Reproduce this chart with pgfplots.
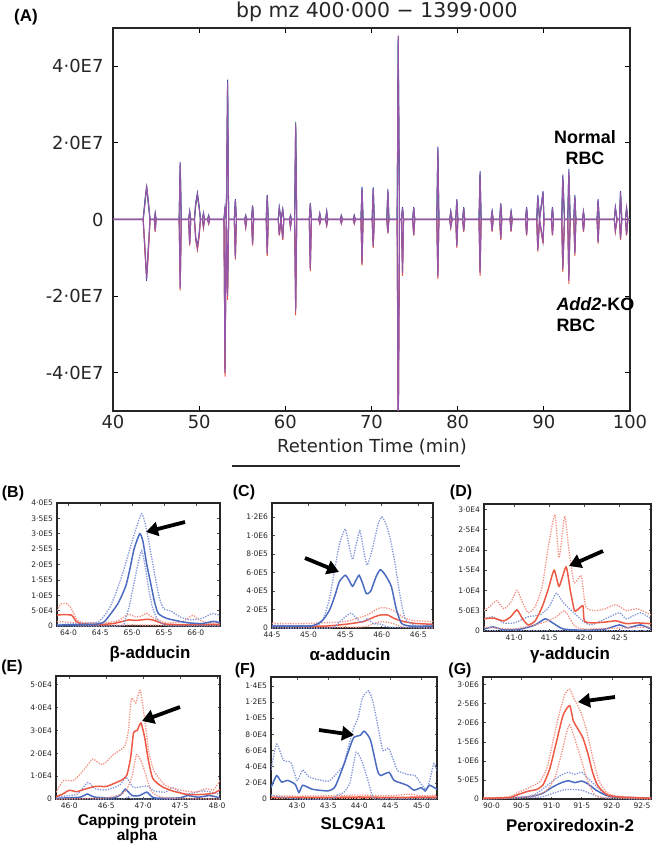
\documentclass[border=0pt]{standalone}
\usepackage{fontspec}
\setmainfont{DejaVu Sans}
\newfontfamily\arialf{Liberation Sans}
\usepackage{pgfplots}
\pgfplotsset{compat=1.18}
\usepackage{pgfplotstable}
\usetikzlibrary{arrows.meta}

\definecolor{cpu}{HTML}{9555A8}
\definecolor{cgr}{HTML}{3A9A5B}
\definecolor{cbk}{HTML}{2F4FA0}
\definecolor{crd}{HTML}{E8553A}
\definecolor{cbl}{HTML}{4A6BC0}
\definecolor{cbll}{HTML}{8096D8}
\definecolor{crs}{HTML}{EC5A45}
\definecolor{crl}{HTML}{F29284}

\pgfplotstableread{
t P Q R K L M
40.0 0 0 0 0 0 0
43.5 0 0 0 0 0 0
43.75 0.5 0.55 0.6 -0.9 -1.0 -0.95
43.9 0.9 0.85 0.8 -1.55 -1.45 -1.6
44.05 0.55 0.6 0.5 -1.0 -1.1 -0.9
44.3 0 0 0 0 0 0
44.8 0 0 0 0 0 0
44.9 0.15 0.17 0.14 -0.3 -0.32 -0.28
45.0 0 0 0 0 0 0
47.68 0 0 0 0 0 0
47.8 1.45 1.5 1.4 -1.8 -1.85 -1.75
47.92 0 0 0 0 0 0
48.78 0 0 0 0 0 0
48.9 0.2 0.22 0.19 -0.65 -0.68 -0.62
49.02 0 0 0 0 0 0
49.45 0 0 0 0 0 0
49.6 0.4 0.45 0.35 -0.5 -0.55 -0.45
49.8 0.65 0.7 0.6 -0.75 -0.8 -0.7
50.0 0.3 0.35 0.3 -0.4 -0.45 -0.35
50.15 0 0 0 0 0 0
50.38 0 0 0 0 0 0
50.5 0.15 0.17 0.14 -0.2 -0.22 -0.19
50.62 0 0 0 0 0 0
50.98 0 0 0 0 0 0
51.1 0.1 0.11 0.09 -0.1 -0.12 -0.09
51.22 0 0 0 0 0 0
52.88 0 0 0 0 0 0
53.0 0.3 0.32 0.28 -4.0 -4.1 -3.9
53.15 0 0 0 0 0 0
53.3 3.6 3.65 3.5 -2.0 -2.1 -1.9
53.42 0 0 0 0 0 0
54.08 0 0 0 0 0 0
54.2 0.5 0.53 0.47 -1.0 -1.05 -0.95
54.32 0 0 0 0 0 0
55.28 0 0 0 0 0 0
55.4 0.1 0.11 0.09 -0.2 -0.21 -0.19
55.52 0 0 0 0 0 0
56.08 0 0 0 0 0 0
56.2 0.35 0.37 0.33 -0.65 -0.68 -0.62
56.32 0 0 0 0 0 0
57.78 0 0 0 0 0 0
57.9 0.6 0.64 0.57 -0.9 -0.95 -0.86
58.02 0 0 0 0 0 0
59.18 0 0 0 0 0 0
59.3 0.3 0.32 0.28 -0.4 -0.42 -0.38
59.5 0 0 0 0 0 0
59.7 0.25 0.27 0.24 -0.5 -0.53 -0.48
59.82 0 0 0 0 0 0
60.48 0 0 0 0 0 0
60.6 0.1 0.11 0.09 -0.2 -0.21 -0.19
60.72 0 0 0 0 0 0
61.08 0 0 0 0 0 0
61.2 2.5 2.45 2.55 -2.4 -2.5 -2.3
61.32 0 0 0 0 0 0
62.78 0 0 0 0 0 0
62.9 0.4 0.43 0.38 -1.3 -1.35 -1.25
63.02 0 0 0 0 0 0
63.88 0 0 0 0 0 0
64.0 0.15 0.16 0.14 -0.1 -0.11 -0.09
64.12 0 0 0 0 0 0
64.68 0 0 0 0 0 0
64.8 0.2 0.22 0.19 -0.15 -0.16 -0.14
64.92 0 0 0 0 0 0
66.38 0 0 0 0 0 0
66.5 0.1 0.11 0.09 -0.1 -0.11 -0.09
66.62 0 0 0 0 0 0
67.88 0 0 0 0 0 0
68.0 0.1 0.11 0.09 -0.1 -0.11 -0.09
68.12 0 0 0 0 0 0
68.78 0 0 0 0 0 0
68.9 0.8 0.85 0.76 -1.15 -1.2 -1.1
69.02 0 0 0 0 0 0
70.08 0 0 0 0 0 0
70.2 0.8 0.84 0.77 -0.7 -0.74 -0.67
70.32 0 0 0 0 0 0
71.78 0 0 0 0 0 0
71.9 0.75 0.79 0.72 -0.35 -0.37 -0.33
72.02 0 0 0 0 0 0
72.98 0 0 0 0 0 0
73.1 4.8 4.7 4.6 -5.9 -5.9 -5.9
73.25 0 0 0 0 0 0
73.48 0 0 0 0 0 0
73.6 0.3 0.32 0.28 -1.4 -1.47 -1.33
73.72 0 0 0 0 0 0
74.78 0 0 0 0 0 0
74.9 0.3 0.32 0.28 -0.4 -0.42 -0.38
75.02 0 0 0 0 0 0
77.58 0 0 0 0 0 0
77.7 1.85 1.9 1.8 -1.5 -1.55 -1.45
77.82 0 0 0 0 0 0
79.08 0 0 0 0 0 0
79.2 0.2 0.21 0.19 -0.2 -0.21 -0.19
79.35 0 0 0 0 0 0
79.78 0 0 0 0 0 0
79.9 0.5 0.53 0.48 -0.7 -0.74 -0.67
80.02 0 0 0 0 0 0
80.58 0 0 0 0 0 0
80.7 0.3 0.32 0.28 -0.3 -0.32 -0.28
80.82 0 0 0 0 0 0
82.48 0 0 0 0 0 0
82.6 1.2 1.26 1.15 -1.4 -1.47 -1.33
82.72 0 0 0 0 0 0
83.88 0 0 0 0 0 0
84.0 0.2 0.21 0.19 -0.3 -0.32 -0.28
84.12 0 0 0 0 0 0
84.88 0 0 0 0 0 0
85.0 0.4 0.42 0.38 -0.5 -0.53 -0.48
85.12 0 0 0 0 0 0
86.08 0 0 0 0 0 0
86.2 0.2 0.21 0.19 -0.3 -0.32 -0.28
86.32 0 0 0 0 0 0
87.88 0 0 0 0 0 0
88.0 0.3 0.32 0.28 -0.4 -0.42 -0.38
88.12 0 0 0 0 0 0
89.18 0 0 0 0 0 0
89.3 0.6 0.64 0.57 -0.8 -0.84 -0.76
89.5 0 0 0 0 0 0
89.9 0.7 0.74 0.66 -0.6 -0.63 -0.57
90.02 0 0 0 0 0 0
90.88 0 0 0 0 0 0
91.0 0.3 0.32 0.28 -0.4 -0.42 -0.38
91.12 0 0 0 0 0 0
92.08 0 0 0 0 0 0
92.2 1.1 1.17 1.04 -1.3 -1.37 -1.24
92.4 0 0 0 0 0 0
92.78 0 0 0 0 0 0
92.9 1.25 1.32 1.19 -1.6 -1.68 -1.52
93.05 0 0 0 0 0 0
93.48 0 0 0 0 0 0
93.6 0.6 0.64 0.57 -0.9 -0.95 -0.86
93.72 0 0 0 0 0 0
94.48 0 0 0 0 0 0
94.6 0.2 0.21 0.19 -0.3 -0.32 -0.28
94.72 0 0 0 0 0 0
96.18 0 0 0 0 0 0
96.3 0.5 0.53 0.48 -0.6 -0.63 -0.57
96.42 0 0 0 0 0 0
98.18 0 0 0 0 0 0
98.3 0.3 0.32 0.28 -0.3 -0.32 -0.28
98.5 0 0 0 0 0 0
98.78 0 0 0 0 0 0
98.9 0.7 0.74 0.66 -0.5 -0.53 -0.48
99.05 0 0 0 0 0 0
99.48 0 0 0 0 0 0
99.6 0.3 0.32 0.28 -0.4 -0.42 -0.38
99.75 0 0 0 0 0 0
100.0 0 0 0 0 0 0
}\tabA

\pgfplotsset{
  sp/.style={scale only axis, anchor=north west, ymin=0,
    axis line style={line width=1.2bp, black!85},
    tick align=inside, tick pos=both, major tick length=2.5bp,
    every tick/.style={black!70, line width=0.6bp},
    ticklabel style={font=\fontsize{7.6}{8}\selectfont, text=black!85},
    yticklabel style={xshift=-0.5bp}, xticklabel style={yshift=-0.5bp},
    every axis plot/.append style={no marks, smooth, tension=0.35}},
  bs/.style={color=cbl, line width=1.5bp},
  bd/.style={color=cbll, line width=1.3bp, dash pattern=on 1.3bp off 1.3bp},
  rs/.style={color=crs, line width=1.5bp},
  rd/.style={color=crl, line width=1.3bp, dash pattern=on 1.3bp off 1.3bp},
}

\newcommand{\plab}[1]{{\arialf\bfseries\fontsize{16}{17}\selectfont #1}}
\newcommand{\nlab}[1]{{\arialf\bfseries\fontsize{17}{18}\selectfont #1}}

\begin{document}
\begin{tikzpicture}
% ---------------- Panel A ----------------
\begin{axis}[at={(113bp,-28bp)}, anchor=north west, scale only axis,
  width=517bp, height=383bp,
  xmin=40, xmax=100, ymin=-5, ymax=5,
  xtick={40,50,60,70,80,90,100},
  xticklabels={40,50,60,70,80,90,100},
  ytick={-4,-2,0,2,4},
  yticklabels={-4·0E7,-2·0E7,0,2·0E7,4·0E7},
  tick align=inside, tick pos=both, major tick length=5bp,
  every tick/.style={black, line width=0.9bp},
  axis line style={line width=1.5bp, black!85},
  ticklabel style={font=\fontsize{18}{19}\selectfont, text=black!85},
  yticklabel style={xshift=-6bp}, xticklabel style={yshift=-1bp},
  clip=true]
\addplot[no marks, cgr, line width=1.0bp] table[x=t, y=R] {\tabA};
\addplot[no marks, cbk, line width=1.0bp] table[x=t, y=Q] {\tabA};
\addplot[no marks, cpu, line width=1.1bp] table[x=t, y=P] {\tabA};
\addplot[no marks, cbk, line width=1.0bp] table[x=t, y=M] {\tabA};
\addplot[no marks, crd, line width=1.0bp] table[x=t, y=L] {\tabA};
\addplot[no marks, cpu, line width=1.1bp] table[x=t, y=K] {\tabA};
\end{axis}
\node[font=\fontsize{20.5}{21}\selectfont, text=black!85] at (377bp,-12bp) {bp mz 400·000 − 1399·000};
\node at (26bp,-17bp) {{\arialf\bfseries\fontsize{17}{18}\selectfont (A)}};
\node[align=center, font=\arialf\bfseries\fontsize{18}{21}\selectfont] at (585bp,-148bp) {Normal\\RBC};
\node[align=left, anchor=north west, font=\arialf\bfseries\fontsize{18}{21}\selectfont] at (553bp,-294bp) {\textit{Add2}-KO\\RBC};
\node[font=\fontsize{18}{19}\selectfont, text=black!85] at (372bp,-447bp) {Retention Time (min)};
\draw[line width=1.5bp, black!85] (232bp,-466bp) -- (460bp,-466bp);

% ---------------- Panel B ----------------
\begin{axis}[sp, at={(57bp,-503bp)}, width=163bp, height=123bp,
  xmin=63.82, xmax=66.38, ymax=4,
  xtick={64,64.5,65,65.5,66}, xticklabels={64·0,64·5,65·0,65·5,66·0},
  ytick={0,0.5,1,1.5,2,2.5,3,3.5,4},
  yticklabels={0,5·0E4,1·0E5,1·5E5,2·0E5,2·5E5,3·0E5,3·5E5,4·0E5}]
\addplot[rd] coordinates {(63.82,0.15) (64.1,0.1) (64.2,0.02) (65,0.03) (66.38,0.02)};
\addplot[rd] coordinates {(63.82,0.5) (63.88,0.72) (63.98,0.72) (64.05,0.55) (64.12,0.25) (64.2,0.12) (64.5,0.1) (64.75,0.15) (64.88,0.3) (64.95,0.38) (65.05,0.3) (65.15,0.32) (65.22,0.42) (65.3,0.3) (65.4,0.2) (65.55,0.1) (65.8,0.15) (65.95,0.35) (66.05,0.2) (66.2,0.1) (66.38,0.1)};
\addplot[rs] coordinates {(63.82,0.35) (63.9,0.37) (64.05,0.35) (64.12,0.15) (64.2,0.08) (64.5,0.05) (64.7,0.08) (64.85,0.15) (64.95,0.2) (65.05,0.18) (65.15,0.2) (65.25,0.22) (65.35,0.18) (65.45,0.1) (65.6,0.05) (66.38,0.05)};
\addplot[bd] coordinates {(63.82,0.05) (64.2,0.08) (64.45,0.12) (64.55,0.3) (64.65,0.6) (64.75,1.1) (64.85,1.7) (64.95,2.4) (65.05,3.1) (65.15,3.65) (65.22,3.2) (65.3,2.3) (65.37,1.5) (65.43,0.9) (65.5,0.55) (65.6,0.5) (65.75,0.3) (65.9,0.2) (66.1,0.25) (66.25,0.4) (66.38,0.35)};
\addplot[bd] coordinates {(63.82,0) (64.8,0) (64.88,0.15) (64.95,0.6) (65.03,1.4) (65.1,2.1) (65.15,2.45) (65.2,2.0) (65.26,1.2) (65.32,0.6) (65.4,0.2) (65.5,0.05) (65.6,0) (66.38,0)};
\addplot[bs] coordinates {(63.82,0.03) (64.1,0.04) (64.4,0.05) (64.55,0.12) (64.65,0.36) (64.78,0.74) (64.9,1.3) (64.97,1.9) (65.03,2.5) (65.12,3.0) (65.17,2.75) (65.23,2.0) (65.3,1.3) (65.35,0.8) (65.41,0.41) (65.54,0.25) (65.75,0.15) (65.9,0.1) (66.1,0.08) (66.28,0.15) (66.38,0.1)};
\end{axis}

% ---------------- Panel C ----------------
\begin{axis}[sp, at={(272bp,-503bp)}, width=161bp, height=125bp,
  xmin=44.5, xmax=46.7, ymax=1.35,
  xtick={44.5,45,45.5,46,46.5}, xticklabels={44·5,45·0,45·5,46·0,46·5},
  ytick={0,0.2,0.4,0.6,0.8,1.0,1.2},
  yticklabels={0,2·0E5,4·0E5,6·0E5,8·0E5,1·0E6,1·2E6}]
\addplot[rd] coordinates {(44.5,0.01) (45.7,0.01) (45.9,0.05) (46.0,0.07) (46.15,0.05) (46.3,0.01) (46.7,0)};
\addplot[rd] coordinates {(44.5,0.05) (45.0,0.05) (45.5,0.07) (45.8,0.14) (45.92,0.2) (46.0,0.22) (46.1,0.21) (46.2,0.17) (46.3,0.11) (46.45,0.08) (46.7,0.07)};
\addplot[rs] coordinates {(44.5,0.02) (45.2,0.02) (45.5,0.04) (45.75,0.07) (45.9,0.12) (45.98,0.14) (46.08,0.14) (46.18,0.1) (46.3,0.07) (46.45,0.05) (46.7,0.04)};
\addplot[bd] coordinates {(44.5,0.03) (45.1,0.03) (45.2,0.1) (45.28,0.3) (45.35,0.6) (45.42,0.9) (45.5,1.07) (45.55,0.9) (45.6,0.74) (45.65,0.9) (45.7,1.05) (45.75,0.85) (45.8,0.68) (45.87,0.85) (45.95,1.12) (46.0,1.2) (46.06,1.12) (46.12,0.95) (46.18,0.7) (46.25,0.35) (46.32,0.1) (46.45,0.03) (46.7,0.03)};
\addplot[bd] coordinates {(44.5,0) (45.3,0) (45.4,0.05) (45.5,0.12) (45.58,0.16) (45.65,0.11) (45.72,0.06) (45.8,0.1) (45.88,0.05) (46.0,0.04) (46.1,0.01) (46.7,0)};
\addplot[bs] coordinates {(44.5,0.02) (45.0,0.02) (45.11,0.04) (45.2,0.09) (45.29,0.2) (45.36,0.35) (45.42,0.5) (45.5,0.57) (45.55,0.52) (45.6,0.45) (45.65,0.52) (45.69,0.57) (45.73,0.5) (45.79,0.37) (45.85,0.4) (45.92,0.55) (45.98,0.63) (46.05,0.57) (46.13,0.45) (46.2,0.2) (46.27,0.05) (46.4,0.02) (46.7,0.02)};
\end{axis}

% ---------------- Panel D ----------------
\begin{axis}[sp, at={(484bp,-504bp)}, width=167bp, height=127bp,
  xmin=40.57, xmax=42.95, ymax=3.13,
  xtick={41,41.5,42,42.5}, xticklabels={41·0,41·5,42·0,42·5},
  ytick={0,0.5,1,1.5,2,2.5,3},
  yticklabels={0,5·0E3,1·0E4,1·5E4,2·0E4,2·5E4,3·0E4}]
\addplot[bd] coordinates {(40.57,0.3) (40.7,0.35) (40.85,0.2) (41.0,0.2) (41.2,0.35) (41.37,0.4) (41.5,0.6) (41.6,0.93) (41.7,0.7) (41.85,0.45) (41.99,0.23) (42.1,0.15) (42.3,0.3) (42.5,0.45) (42.6,0.3) (42.8,0.45) (42.95,0.3)};
\addplot[bd] coordinates {(40.57,0.01) (42.95,0.01)};
\addplot[bs] coordinates {(40.57,0.05) (40.7,0.1) (40.85,0.03) (41.1,0.05) (41.3,0.15) (41.44,0.3) (41.55,0.2) (41.7,0.05) (42.0,0.02) (42.3,0.05) (42.5,0.15) (42.62,0.08) (42.8,0.15) (42.95,0.05)};
\addplot[rd] coordinates {(40.57,0.1) (41.0,0.05) (41.4,0.2) (41.6,0.35) (41.72,0.5) (41.85,0.15) (42.0,0.05) (42.95,0.1)};
\addplot[rd] coordinates {(40.57,0.5) (40.65,0.6) (40.75,0.75) (40.85,0.55) (40.95,0.7) (41.04,1.0) (41.12,0.7) (41.2,0.45) (41.3,0.6) (41.4,1.1) (41.48,2.0) (41.58,2.87) (41.64,1.8) (41.72,2.83) (41.78,2.0) (41.85,1.2) (41.92,1.3) (41.96,1.35) (42.02,0.6) (42.15,0.5) (42.3,0.55) (42.45,0.65) (42.6,0.5) (42.75,0.55) (42.95,0.4)};
\addplot[rs] coordinates {(40.57,0.3) (40.7,0.32) (40.85,0.25) (40.95,0.35) (41.04,0.52) (41.12,0.3) (41.2,0.15) (41.3,0.25) (41.4,0.6) (41.48,1.0) (41.57,1.5) (41.64,1.1) (41.74,1.58) (41.8,1.0) (41.86,0.5) (41.92,0.55) (41.98,0.62) (42.0,0.25) (42.1,0.2) (42.3,0.22) (42.45,0.25) (42.6,0.18) (42.75,0.2) (42.95,0.18)};
\end{axis}

% ---------------- Panel E ----------------
\begin{axis}[sp, at={(56bp,-676bp)}, width=164bp, height=123bp,
  xmin=45.82, xmax=48.04, ymax=5.38,
  xtick={46,46.5,47,47.5,48}, xticklabels={46·0,46·5,47·0,47·5,48·0},
  ytick={0,1,2,3,4,5},
  yticklabels={0,1·0E4,2·0E4,3·0E4,4·0E4,5·0E4}]
\addplot[bd] coordinates {(45.82,0.1) (46.1,0.2) (46.25,0.72) (46.35,0.45) (46.5,0.4) (46.68,0.6) (46.77,0.95) (46.87,0.5) (47.05,0.57) (47.15,0.35) (47.3,0.3) (47.4,0.5) (47.55,0.2) (47.8,0.35) (47.92,0.3) (48.04,0.2)};
\addplot[bd] coordinates {(45.82,0) (46.7,0) (46.8,0.1) (46.9,0) (48.04,0)};
\addplot[bs] coordinates {(45.82,0.03) (46.15,0.08) (46.24,0.22) (46.35,0.08) (46.6,0.05) (46.7,0.2) (46.76,0.43) (46.85,0.15) (46.95,0.15) (47.05,0.3) (47.15,0.05) (47.5,0.05) (47.6,0.15) (47.75,0.08) (47.9,0.15) (48.04,0.05)};
\addplot[rd] coordinates {(45.82,0) (46.5,0.05) (46.75,0.3) (46.85,1.0) (46.91,1.94) (46.98,1.6) (47.05,0.9) (47.12,0.3) (47.3,0.05) (48.04,0)};
\addplot[rd] coordinates {(45.82,0.3) (45.92,0.8) (46.05,0.8) (46.15,1.1) (46.25,1.5) (46.32,1.75) (46.45,1.5) (46.6,1.95) (46.75,2.3) (46.8,3.0) (46.84,4.4) (46.9,4.2) (46.96,4.75) (47.02,3.5) (47.08,2.0) (47.15,1.2) (47.3,0.6) (47.5,0.4) (47.7,0.3) (47.85,0.45) (47.95,0.4) (48.04,0.8)};
\addplot[rs] coordinates {(45.82,0.1) (45.9,0.2) (46.0,0.38) (46.1,0.32) (46.2,0.42) (46.35,0.55) (46.5,0.55) (46.62,0.7) (46.72,0.85) (46.78,1.05) (46.83,1.8) (46.87,2.9) (46.92,3.0) (46.97,3.33) (47.02,2.7) (47.07,1.7) (47.13,0.9) (47.25,0.55) (47.4,0.35) (47.6,0.2) (47.8,0.2) (47.95,0.25) (48.04,0.4)};
\end{axis}

% ---------------- Panel F ----------------
\begin{axis}[sp, at={(271bp,-677bp)}, width=166bp, height=122bp,
  xmin=42.58, xmax=45.25, ymax=15.1,
  xtick={43,43.5,44,44.5,45}, xticklabels={43·0,43·5,44·0,44·5,45·0},
  ytick={0,2,4,6,8,10,12,14},
  yticklabels={0,2·0E4,4·0E4,6·0E4,8·0E4,1·0E5,1·2E5,1·4E5}]
\addplot[rd] coordinates {(42.58,0.05) (45.25,0.05)};
\addplot[rd] coordinates {(42.58,0.4) (43.0,0.35) (43.5,0.4) (44.0,0.5) (44.5,0.4) (44.8,0.6) (45.0,0.4) (45.25,0.5)};
\addplot[rs] coordinates {(42.58,0.2) (43.5,0.2) (44.0,0.25) (44.5,0.2) (45.25,0.25)};
\addplot[bd] coordinates {(42.58,3.6) (42.67,6.8) (42.78,4.8) (42.9,4.5) (43.0,2.3) (43.09,3.6) (43.2,2.7) (43.5,2.2) (43.65,3.3) (43.75,4.3) (43.85,7.2) (43.92,9.0) (43.98,10.0) (44.05,12.5) (44.15,13.4) (44.22,12.0) (44.3,9.0) (44.38,6.0) (44.47,6.3) (44.55,4.8) (44.62,3.5) (44.8,3.0) (44.9,2.9) (45.0,1.8) (45.08,1.2) (45.13,2.2) (45.2,4.4) (45.25,3.5)};
\addplot[bd] coordinates {(42.58,0.5) (42.7,0.3) (43.0,0) (43.55,0) (43.65,0.5) (43.75,0.8) (43.85,2.0) (43.95,5.8) (44.05,4.5) (44.15,2.0) (44.22,0.2) (44.3,0) (45.25,0)};
\addplot[bs] coordinates {(42.58,1.4) (42.67,2.9) (42.75,2.1) (42.85,2.3) (42.97,1.8) (43.03,0.8) (43.09,1.7) (43.25,1.2) (43.5,1.0) (43.6,1.4) (43.65,2.2) (43.75,4.2) (43.83,6.0) (43.91,7.6) (44.02,7.9) (44.08,8.4) (44.18,7.3) (44.29,3.6) (44.34,2.9) (44.48,3.3) (44.56,2.3) (44.77,1.7) (44.88,1.1) (45.0,1.4) (45.06,1.0) (45.13,1.7) (45.25,1.2)};
\end{axis}

% ---------------- Panel G ----------------
\begin{axis}[sp, at={(483bp,-677bp)}, width=168bp, height=122bp,
  xmin=89.86, xmax=92.65, ymax=3.2,
  xtick={90,90.5,91,91.5,92,92.5}, xticklabels={90·0,90·5,91·0,91·5,92·0,92·5},
  ytick={0,0.5,1,1.5,2,2.5,3},
  yticklabels={0,5·0E5,1·0E6,1·5E6,2·0E6,2·5E6,3·0E6}]
\addplot[bd] coordinates {(89.86,0.02) (90.6,0.06) (90.8,0.2) (91.0,0.45) (91.15,0.62) (91.28,0.7) (91.38,0.65) (91.5,0.7) (91.6,0.55) (91.75,0.32) (91.9,0.12) (92.1,0.05) (92.65,0.03)};
\addplot[bd] coordinates {(89.86,0) (90.8,0.05) (91.0,0.14) (91.2,0.24) (91.35,0.25) (91.5,0.23) (91.65,0.14) (91.8,0.05) (92.0,0.01) (92.65,0)};
\addplot[bs] coordinates {(89.86,0.01) (90.5,0.04) (90.7,0.08) (90.85,0.15) (91.0,0.3) (91.15,0.42) (91.28,0.48) (91.38,0.43) (91.5,0.47) (91.6,0.4) (91.75,0.22) (91.9,0.1) (92.05,0.05) (92.65,0.02)};
\addplot[rd] coordinates {(89.86,0.02) (90.3,0.06) (90.45,0.18) (90.6,0.28) (90.8,0.45) (90.92,0.8) (91.02,1.5) (91.12,2.2) (91.22,2.75) (91.3,2.88) (91.38,2.6) (91.48,2.3) (91.58,1.8) (91.68,1.1) (91.78,0.5) (91.9,0.2) (92.05,0.08) (92.65,0.02)};
\addplot[rd] coordinates {(89.86,0) (90.6,0.05) (90.9,0.2) (91.05,0.55) (91.15,1.1) (91.25,1.75) (91.3,1.95) (91.38,1.6) (91.48,1.1) (91.58,0.55) (91.68,0.2) (91.8,0.05) (92.65,0)};
\addplot[rs] coordinates {(89.86,0.02) (90.3,0.04) (90.45,0.12) (90.6,0.2) (90.75,0.25) (90.86,0.38) (90.97,0.8) (91.08,1.5) (91.19,2.2) (91.3,2.45) (91.36,2.05) (91.45,1.8) (91.52,1.6) (91.6,1.2) (91.68,0.7) (91.75,0.4) (91.83,0.23) (91.94,0.1) (92.15,0.05) (92.65,0.02)};
\end{axis}

% panel letters and names
\node at (13bp,-493bp) {\plab{(B)}};
\node at (244bp,-492bp) {\plab{(C)}};
\node at (461bp,-492bp) {\plab{(D)}};
\node at (12bp,-667bp) {\plab{(E)}};
\node at (245bp,-670bp) {\plab{(F)}};
\node at (460bp,-670bp) {\plab{(G)}};
\node at (150bp,-654bp) {\nlab{β-adducin}};
\node at (350bp,-654bp) {\nlab{α-adducin}};
\node at (570bp,-655bp) {\nlab{γ-adducin}};
\node[align=center, inner sep=0pt, font=\arialf\bfseries\fontsize{15.5}{14.5}\selectfont] at (137bp,-829bp) {Capping protein\\alpha};
\node at (353bp,-824bp) {\nlab{SLC9A1}};
\node at (570bp,-825bp) {\nlab{Peroxiredoxin-2}};

% arrows
\tikzset{bigarrow/.style={line width=3.8bp, black, -{Triangle[length=12bp, width=14bp]}}}
\draw[bigarrow] (185bp,-522bp) -- (146bp,-532bp);
\draw[bigarrow] (305bp,-558bp) -- (339bp,-572bp);
\draw[bigarrow] (603bp,-551bp) -- (569bp,-566bp);
\draw[bigarrow] (180bp,-707bp) -- (142bp,-721bp);
\draw[bigarrow] (319bp,-730bp) -- (354bp,-735bp);
\draw[bigarrow] (615bp,-697bp) -- (578bp,-702bp);

\pgfresetboundingbox
\path[use as bounding box] (0bp,0bp) rectangle (652bp,-845bp);
\end{tikzpicture}
\end{document}
